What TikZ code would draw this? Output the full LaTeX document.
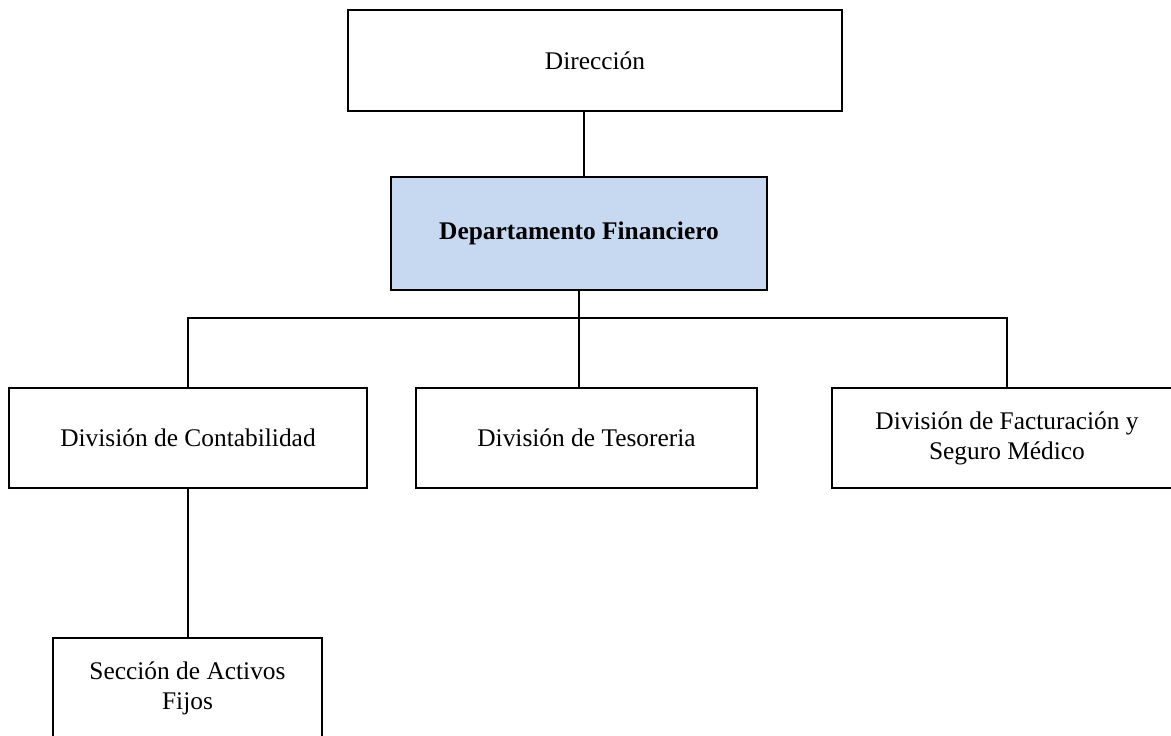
\documentclass[tikz,border=0pt]{standalone}
\usepackage{fontspec}
\setmainfont{Liberation Serif}
\definecolor{deptblue}{RGB}{198,217,240}
\begin{document}
\begin{tikzpicture}[x=1pt,y=-1pt,
  box/.style={draw=black, line width=1.6pt, fill=white, inner sep=0pt, align=center,
    font=\fontsize{25.4}{30}\selectfont},
  link/.style={draw=black, line width=1.6pt}]
\clip (0,0) rectangle (1171,736);
\fill[white] (0,0) rectangle (1171,736);
\node[box, minimum width=494pt, minimum height=101pt] (dir) at (595,60.5) {Dirección};
\node[box, fill=deptblue, minimum width=376pt, minimum height=113pt, font=\fontsize{25.4}{30}\selectfont\bfseries] (dep) at (579,233.5) {Departamento Financiero};
\node[box, minimum width=358pt, minimum height=100pt] (con) at (188,438) {División de Contabilidad};
\node[box, minimum width=341pt, minimum height=100pt] (tes) at (586.5,438) {División de Tesoreria};
\node[box, minimum width=350pt, minimum height=100pt] (fac) at (1007,438) {División de Facturación y\\Seguro Médico};
\node[box, minimum width=269pt, minimum height=100pt] (sec) at (187.5,688) {Sección de Activos\\Fijos};
\coordinate (bus) at (0,318);
\draw[link] ([xshift=-11pt]dir.south) -- ([xshift=-11pt]dir.south |- dep.north);
\draw[link] (dep.south) -- (dep.south |- tes.north);
\draw[link] (con.north) -- (con.north |- bus) -- (fac.north |- bus) -- (fac.north);
\draw[link] (con.south) -- (con.south |- sec.north);
\end{tikzpicture}
\end{document}
